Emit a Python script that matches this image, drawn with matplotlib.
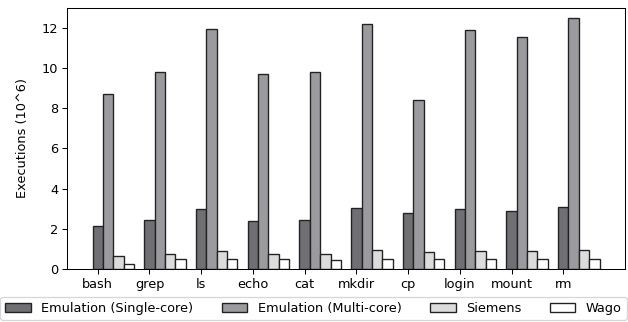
import numpy as np
import matplotlib
matplotlib.use("Agg")
import matplotlib.pyplot as plt

commands = ["bash", "grep", "ls", "echo", "cat", "mkdir", "cp", "login", "mount", "rm"]
single_core = [2.15, 2.45, 2.97, 2.40, 2.45, 3.02, 2.78, 2.97, 2.88, 3.10]
multi_core = [8.74, 9.83, 11.95, 9.69, 9.83, 12.20, 8.42, 11.90, 11.57, 12.50]
siemens = [0.65, 0.75, 0.90, 0.75, 0.75, 0.95, 0.83, 0.90, 0.90, 0.95]
wago = [0.23, 0.48, 0.48, 0.48, 0.43, 0.48, 0.48, 0.48, 0.48, 0.48]

series = [
    ("Emulation (Single-core)", single_core, "#707074"),
    ("Emulation (Multi-core)", multi_core, "#9b9b9f"),
    ("Siemens", siemens, "#dcdcdd"),
    ("Wago", wago, "#ffffff"),
]

# rendered slightly smaller than default so text matches the reference scale
DPI = 93
fig = plt.figure(figsize=(628 / DPI, 322 / DPI), dpi=DPI)
ax = fig.add_axes([0.107, 0.165, 0.888, 0.81])

x = np.arange(len(commands))
width = 0.2
for i, (label, vals, color) in enumerate(series):
    ax.bar(x + i * width, vals, width, color=color, edgecolor="#222222",
           linewidth=1.05, label=label)

ax.set_xticks(x)
ax.set_xticklabels(commands)
ax.set_ylim(0, 13)
ax.set_yticks(range(0, 13, 2))
ax.set_ylabel("Executions (10^6)")
ax.yaxis.set_label_coords(-0.068, 0.5)

fig.legend(loc="lower left", bbox_to_anchor=(0.0, 0.006, 0.998, 0.07),
           mode="expand", ncol=4, borderaxespad=0.0)

fig.savefig("out.png", dpi=DPI)
